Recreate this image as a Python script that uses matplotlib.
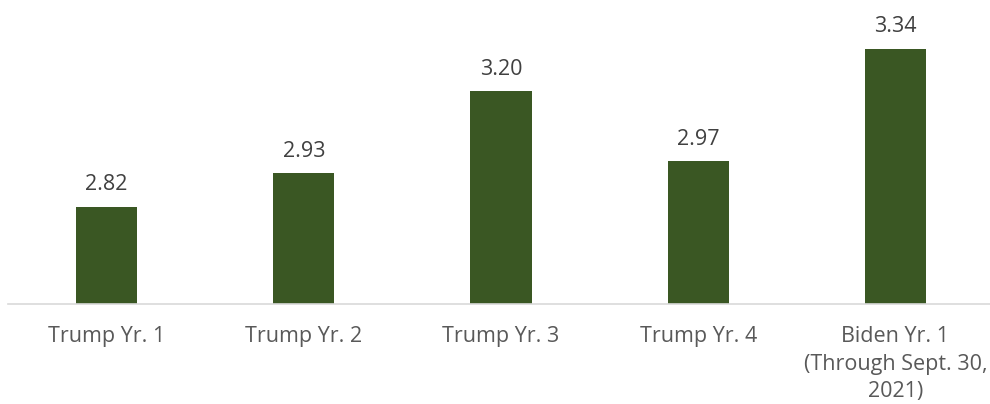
import matplotlib
matplotlib.use("Agg")
import matplotlib.pyplot as plt

categories = ["Trump Yr. 1", "Trump Yr. 2", "Trump Yr. 3", "Trump Yr. 4",
              "Biden Yr. 1\n(Through Sept. 30,\n2021)"]
values = [2.82, 2.93, 3.20, 2.97, 3.34]
value_labels = ["2.82", "2.93", "3.20", "2.97", "3.34"]

plt.rcParams['font.family'] = ['Open Sans', 'DejaVu Sans']

fig = plt.figure(figsize=(9.9, 4.04), dpi=100)
ax = fig.add_axes([8/990, (404-304)/404, 986/990, 303.6/404])
x = list(range(len(categories)))
bars = ax.bar(x, [v - 2.5 for v in values], bottom=2.5, width=0.31, color="#3a5723")
ax.set_xlim(-0.5, 4.5)
ax.set_ylim(2.5, 3.5)
for xi, v, lab in zip(x, values, value_labels):
    ax.annotate(lab, (xi, v), xytext=(0, 8.5), textcoords="offset points",
                ha="center", va="bottom", fontsize=15.5, color="#404040")
for s in ["top", "right", "left"]:
    ax.spines[s].set_visible(False)
ax.spines["bottom"].set_color("#d9d9d9")
ax.spines["bottom"].set_linewidth(1.2)
ax.set_yticks([])
ax.set_xticks(x)
ax.set_xticklabels(categories, fontsize=15.5, color="#595959", linespacing=1.4)
ax.tick_params(axis="x", length=0, pad=16)
fig.savefig("out.png", dpi=100)
